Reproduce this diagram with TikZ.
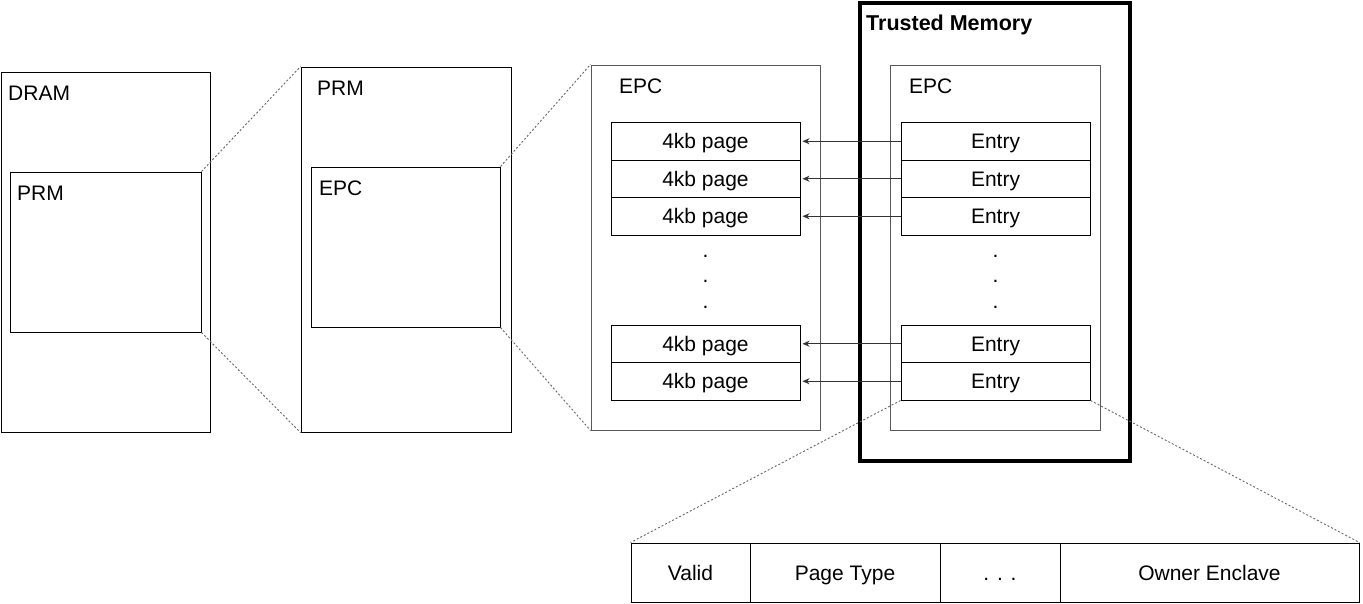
\documentclass[tikz,border=0pt]{standalone}
\usepackage{fontspec}
\setmainfont{Liberation Sans}
\usetikzlibrary{arrows.meta}
\begin{document}
\begin{tikzpicture}[x=1pt,y=-1pt,
  box/.style={draw=black,line width=1pt,rectangle,inner sep=0pt,fill=none},
  gbox/.style={draw=black!65,line width=1pt,rectangle,inner sep=0pt},
  row/.style={draw=black,line width=1pt,rectangle,inner sep=0pt,minimum height=37.5pt,text height=20.4pt,text depth=5pt,font=\fontsize{21}{25}\selectfont},
  lbl/.style={anchor=base west,inner sep=0pt,font=\fontsize{21}{25}\selectfont},
  dotlbl/.style={anchor=base,inner sep=0pt,font=\fontsize{21}{25}\selectfont},
  zoomline/.style={draw=black!60,line width=0.9pt,dash pattern=on 2pt off 2pt},
  ptr/.style={draw=black!80,line width=1pt,-{Stealth[length=7pt,width=6pt]},shorten >=2pt},
  cell/.style={draw=black,line width=1pt,rectangle,inner sep=0pt,minimum height=59pt,text height=20.4pt,text depth=5pt,font=\fontsize{21}{25}\selectfont}
]
\useasboundingbox (0,0) rectangle (1363,603);

% DRAM
\node[box,minimum width=209pt,minimum height=360pt] (dram) at (105.5,252) {};
\node[box,minimum width=191pt,minimum height=160pt] (prm1) at (105.5,252) {};
\node[lbl] (ldram) at (8,100) {DRAM};
\node[lbl] (lprm1) at (17,200) {PRM};

% PRM
\node[box,minimum width=210pt,minimum height=365pt] (prm2) at (406,249.5) {};
\node[box,minimum width=189pt,minimum height=160pt] (epc2) at (405.5,247) {};
\node[lbl] (lprm2) at (317,95) {PRM};
\node[lbl] (lepc2) at (319,195) {EPC};

% EPC pages
\node[gbox,minimum width=229pt,minimum height=365pt] (epc3) at (705.5,247.5) {};
\node[lbl] (lepc3) at (619,93) {EPC};
\node[row,minimum width=189pt] (p1) at (705.5,141.25) {4kb page};
\node[row,minimum width=189pt] (p2) at (705.5,178.75) {4kb page};
\node[row,minimum width=189pt] (p3) at (705.5,216.25) {4kb page};
\node[dotlbl] (pd1) at (705.5,257) {.};
\node[dotlbl] (pd2) at (705.5,282.5) {.};
\node[dotlbl] (pd3) at (705.5,308) {.};
\node[row,minimum width=189pt] (p4) at (705.5,343.75) {4kb page};
\node[row,minimum width=189pt] (p5) at (705.5,381.25) {4kb page};

% Trusted memory
\node[draw=black,line width=4pt,rectangle,minimum width=270pt,minimum height=458pt,inner sep=0pt] (tm) at (995,232) {};
\node[lbl,font=\fontsize{21.5}{25}\selectfont\bfseries] (ltm) at (866,30) {Trusted Memory};
\node[gbox,minimum width=210pt,minimum height=365pt] (epc4) at (995,247.5) {};
\node[lbl] (lepc4) at (909,93) {EPC};
\node[row,minimum width=189pt] (e1) at (995.5,141.25) {Entry};
\node[row,minimum width=189pt] (e2) at (995.5,178.75) {Entry};
\node[row,minimum width=189pt] (e3) at (995.5,216.25) {Entry};
\node[dotlbl] (ed1) at (995.5,257) {.};
\node[dotlbl] (ed2) at (995.5,282.5) {.};
\node[dotlbl] (ed3) at (995.5,308) {.};
\node[row,minimum width=189pt] (e4) at (995.5,343.75) {Entry};
\node[row,minimum width=189pt] (e5) at (995.5,381.25) {Entry};

% arrows
\draw[ptr] (e1.west) -- (p1.east);
\draw[ptr] (e2.west) -- (p2.east);
\draw[ptr] (e3.west) -- (p3.east);
\draw[ptr] (e4.west) -- (p4.east);
\draw[ptr] (e5.west) -- (p5.east);

% table
\node[cell,minimum width=119pt] (valid) at (690.5,572.5) {Valid};
\node[cell,minimum width=190pt] (ptype) at (845,572.5) {Page Type};
\node[cell,minimum width=120pt] (more) at (1000,572.5) {. . .};
\node[cell,minimum width=299pt] (owner) at (1209.5,572.5) {Owner Enclave};

% zoom lines
\draw[zoomline] (prm1.north east) -- (prm2.north west);
\draw[zoomline] (prm1.south east) -- (prm2.south west);
\draw[zoomline] (epc2.north east) -- (epc3.north west);
\draw[zoomline] (epc2.south east) -- (epc3.south west);
\draw[zoomline] (e5.south west) -- (valid.north west);
\draw[zoomline] (e5.south east) -- (owner.north east);
\end{tikzpicture}
\end{document}
